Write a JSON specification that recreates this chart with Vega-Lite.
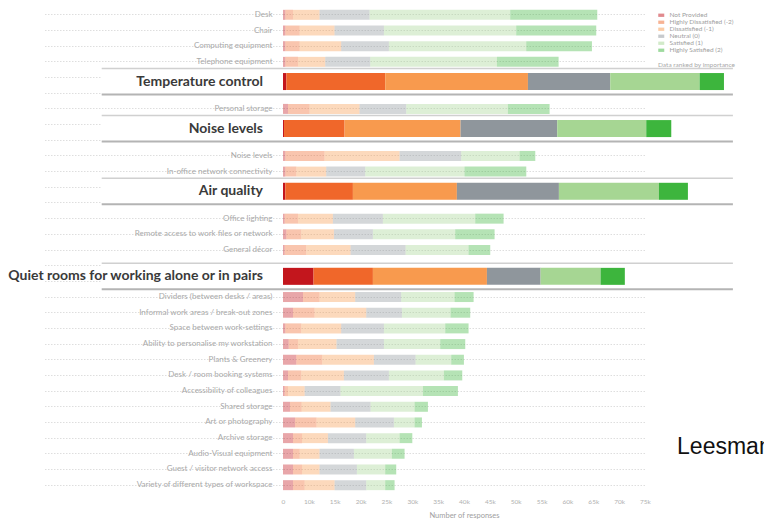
{
  "$schema": "https://vega.github.io/schema/vega-lite/v6.json",
  "width": 362,
  "height": 486,
  "autosize": "none",
  "padding": {"left": 283, "top": 7, "right": 119, "bottom": 27},
  "background": "white",
  "datasets": {
    "levels": [
      {"code": "np", "level": "Not Provided", "rank": 0},
      {"code": "hd", "level": "Highly Dissatisfied (-2)", "rank": 1},
      {"code": "dis", "level": "Dissatisfied (-1)", "rank": 2},
      {"code": "neu", "level": "Neutral (0)", "rank": 3},
      {"code": "sat", "level": "Satisfied (1)", "rank": 4},
      {"code": "hs", "level": "Highly Satisfied (2)", "rank": 5}
    ],
    "base": [
      {"row": "Desk", "np": 900, "hd": 2960, "dis": 8200, "neu": 9670, "sat": 27210, "hs": 16830},
      {"row": "Chair", "np": 900, "hd": 5540, "dis": 8520, "neu": 9550, "sat": 25590, "hs": 15470},
      {"row": "Computing equipment", "np": 900, "hd": 5540, "dis": 9810, "neu": 9220, "sat": 26570, "hs": 12700},
      {"row": "Telephone equipment", "np": 900, "hd": 4890, "dis": 7370, "neu": 8700, "sat": 24500, "hs": 11930},
      {"row": "Personal storage", "np": 1930, "hd": 8200, "dis": 9670, "neu": 9030, "sat": 19660, "hs": 8060},
      {"row": "Noise levels", "np": 900, "hd": 12130, "dis": 14510, "neu": 11920, "sat": 11290, "hs": 3030},
      {"row": "In-office network connectivity", "np": 900, "hd": 4250, "dis": 8200, "neu": 7550, "sat": 19200, "hs": 11940},
      {"row": "Office lighting", "np": 640, "hd": 5150, "dis": 8850, "neu": 9670, "sat": 17860, "hs": 5480},
      {"row": "Remote access to work files or network", "np": 1290, "hd": 5790, "dis": 7760, "neu": 7540, "sat": 15920, "hs": 7610},
      {"row": "General décor", "np": 640, "hd": 8370, "dis": 9050, "neu": 10640, "sat": 12180, "hs": 4190},
      {"row": "Dividers (between desks / areas)", "np": 7720, "hd": 4340, "dis": 6900, "neu": 8900, "sat": 10310, "hs": 3680},
      {"row": "Informal work areas / break-out zones", "np": 3860, "hd": 7240, "dis": 9990, "neu": 6900, "sat": 9410, "hs": 3800},
      {"row": "Space between work-settings", "np": 900, "hd": 6180, "dis": 9170, "neu": 8260, "sat": 11860, "hs": 4510},
      {"row": "Ability to personalise my workstation", "np": 2190, "hd": 3600, "dis": 9560, "neu": 9160, "sat": 10890, "hs": 4840},
      {"row": "Plants & Greenery", "np": 5150, "hd": 7430, "dis": 9990, "neu": 8060, "sat": 6900, "hs": 2450},
      {"row": "Desk / room booking systems", "np": 1930, "hd": 5150, "dis": 9690, "neu": 8700, "sat": 10640, "hs": 3550},
      {"row": "Accessibility of colleagues", "np": 640, "hd": 1290, "dis": 6440, "neu": 7750, "sat": 15930, "hs": 6770},
      {"row": "Shared storage", "np": 2700, "hd": 4510, "dis": 6980, "neu": 7740, "sat": 8510, "hs": 2580},
      {"row": "Art or photography", "np": 4630, "hd": 6850, "dis": 7480, "neu": 7480, "sat": 4000, "hs": 1420},
      {"row": "Archive storage", "np": 3860, "hd": 3480, "dis": 6340, "neu": 7410, "sat": 6450, "hs": 2460},
      {"row": "Audio-Visual equipment", "np": 3860, "hd": 2580, "dis": 5620, "neu": 6640, "sat": 7350, "hs": 2450},
      {"row": "Guest / visitor network access", "np": 3860, "hd": 3480, "dis": 4720, "neu": 7220, "sat": 5480, "hs": 2130},
      {"row": "Variety of different types of workspace", "np": 3860, "hd": 4510, "dis": 6600, "neu": 6120, "sat": 3670, "hs": 1810}
    ],
    "callouts": [
      {"row": "Temperature control (callout)", "item": "Temperature control", "np": 1290, "hd": 23470, "dis": 27600, "neu": 15920, "sat": 17280, "hs": 4710},
      {"row": "Noise levels (callout)", "item": "Noise levels", "np": 400, "hd": 16500, "dis": 22430, "neu": 18700, "sat": 17210, "hs": 4840},
      {"row": "Air quality (callout)", "item": "Air quality", "np": 900, "hd": 17610, "dis": 20110, "neu": 19730, "sat": 19340, "hs": 5610},
      {"row": "Quiet rooms for working alone or in pairs (callout)", "item": "Quiet rooms for working alone or in pairs", "np": 10900, "hd": 11480, "dis": 22050, "neu": 10380, "sat": 11600, "hs": 4690}
    ],
    "note": [{"text": "Leesman"}]
  },
  "config": {
    "view": {"stroke": null},
    "font": "Lato",
    "axisY": {
      "domain": false,
      "ticks": true,
      "tickOffset": 7.84,
      "tickSize": 240,
      "tickColor": "#d6d6d6",
      "tickDash": [1.5, 1.5],
      "tickWidth": 0.8,
      "grid": true,
      "gridColor": "#d6d6d6",
      "gridDash": [1.5, 1.5],
      "gridWidth": 0.8,
      "labelPadding": -229,
      "labelFontSize": 8,
      "labelColor": "#a9a9a9",
      "labelFont": "Lato",
      "labelLimit": 400
    },
    "axisX": {
      "domain": false,
      "ticks": false,
      "grid": false,
      "labelFlush": false,
      "labelOverlap": false,
      "labelFontSize": 6.5,
      "labelColor": "#b0b0b0",
      "labelFont": "Lato",
      "labelPadding": 5,
      "titleFontSize": 7.5,
      "titleColor": "#a0a0a0",
      "titleFont": "Lato",
      "titleFontWeight": "normal",
      "titlePadding": 7
    }
  },
  "layer": [
    {
      "data": {"name": "base"},
      "transform": [
        {"fold": ["np", "hd", "dis", "neu", "sat", "hs"], "as": ["code", "count"]},
        {"lookup": "code", "from": {"data": {"name": "levels"}, "key": "code", "fields": ["level", "rank"]}}
      ],
      "mark": {"type": "bar", "size": 10, "opacity": 0.38},
      "encoding": {
        "y": {
          "field": "row",
          "type": "nominal",
          "title": null,
          "sort": null,
          "scale": {
            "domain": [
              "Desk", "Chair", "Computing equipment", "Telephone equipment",
              "Temperature control (callout)", " ", "Personal storage",
              "Noise levels (callout)", "  ", "Noise levels", "In-office network connectivity",
              "Air quality (callout)", "   ", "Office lighting", "Remote access to work files or network",
              "General décor", "    ", "Quiet rooms for working alone or in pairs (callout)",
              "Dividers (between desks / areas)", "Informal work areas / break-out zones",
              "Space between work-settings", "Ability to personalise my workstation",
              "Plants & Greenery", "Desk / room booking systems", "Accessibility of colleagues",
              "Shared storage", "Art or photography", "Archive storage", "Audio-Visual equipment",
              "Guest / visitor network access", "Variety of different types of workspace"
            ],
            "paddingInner": 0,
            "paddingOuter": 0
          },
          "axis": {"labelExpr": "indexof(datum.value, '(callout)') >= 0 ? '' : datum.value"}
        },
        "x": {
          "field": "count",
          "type": "quantitative",
          "stack": "zero",
          "title": "Number of responses",
          "scale": {"domain": [0, 10000, 75000], "range": [0, 25.9, 362], "nice": false, "zero": false},
          "axis": {
            "values": [0, 10000, 15000, 20000, 25000, 30000, 35000, 40000, 45000, 50000, 55000, 60000, 65000, 70000, 75000],
            "tickCount": 40,
            "labelExpr": "datum.value == 0 ? '0' : (datum.value / 1000) + 'k'"
          }
        },
        "color": {
          "field": "level",
          "type": "nominal",
          "scale": {
            "domain": ["Not Provided", "Highly Dissatisfied (-2)", "Dissatisfied (-1)", "Neutral (0)", "Satisfied (1)", "Highly Satisfied (2)"],
            "range": ["#c3161d", "#f0672a", "#f89a4e", "#8f969c", "#a6d693", "#3db53d"]
          },
          "legend": {
            "orient": "none",
            "legendX": 375,
            "legendY": 5,
            "title": "Data ranked by importance",
            "titleOrient": "bottom",
            "titleAnchor": "start",
            "titleFontSize": 6.5,
            "titleFontWeight": "normal",
            "titleColor": "#a8a8a8",
            "titlePadding": 8,
            "labelFontSize": 6.5,
            "labelColor": "#a0a0a0",
            "labelOffset": 5,
            "symbolType": "M-1,-0.55H1V0.55H-1Z",
            "symbolSize": 36,
            "symbolOpacity": 0.5,
            "symbolStrokeWidth": 0,
            "rowPadding": 0
          }
        },
        "order": {"field": "rank", "type": "quantitative"}
      }
    },
    {
      "data": {"name": "callouts"},
      "mark": {"type": "bar", "size": 26, "color": "white", "yOffset": {"expr": "indexof(datum.row, 'Quiet') == 0 ? -5 : 4"}},
      "encoding": {
        "y": {"field": "row", "type": "nominal", "title": null},
        "x": {"datum": -70000, "type": "quantitative", "title": "Number of responses"},
        "x2": {"datum": 92000}
      }
    },
    {
      "data": {"name": "callouts"},
      "mark": {"type": "rule", "color": "#d0d0d0", "strokeWidth": 1.5, "yOffset": {"expr": "(indexof(datum.row, 'Quiet') == 0 ? -5 : 4) - 13"}},
      "encoding": {
        "y": {"field": "row", "type": "nominal", "title": null},
        "x": {"datum": -70000, "type": "quantitative", "title": "Number of responses"},
        "x2": {"datum": 92000}
      }
    },
    {
      "data": {"name": "callouts"},
      "mark": {"type": "rule", "color": "#b4b4b4", "strokeWidth": 2, "yOffset": {"expr": "(indexof(datum.row, 'Quiet') == 0 ? -5 : 4) + 13"}},
      "encoding": {
        "y": {"field": "row", "type": "nominal", "title": null},
        "x": {"datum": -70000, "type": "quantitative", "title": "Number of responses"},
        "x2": {"datum": 92000}
      }
    },
    {
      "data": {"name": "callouts"},
      "transform": [
        {"fold": ["np", "hd", "dis", "neu", "sat", "hs"], "as": ["code", "count"]},
        {"lookup": "code", "from": {"data": {"name": "levels"}, "key": "code", "fields": ["level", "rank"]}}
      ],
      "mark": {"type": "bar", "size": 17, "yOffset": {"expr": "indexof(datum.row, 'Quiet') == 0 ? -5 : 4"}},
      "encoding": {
        "y": {"field": "row", "type": "nominal", "title": null},
        "x": {"field": "count", "type": "quantitative", "stack": "zero", "title": "Number of responses"},
        "color": {"field": "level", "type": "nominal", "legend": null},
        "order": {"field": "rank", "type": "quantitative"}
      }
    },
    {
      "data": {"name": "callouts"},
      "mark": {"type": "text", "align": "right", "baseline": "middle", "dx": -20, "font": "Lato", "fontWeight": "bold", "fontSize": 14, "color": "#3a3a3a", "yOffset": {"expr": "indexof(datum.row, 'Quiet') == 0 ? -5 : 4"}},
      "encoding": {
        "y": {"field": "row", "type": "nominal", "title": null},
        "x": {"datum": 0, "type": "quantitative", "title": "Number of responses"},
        "text": {"field": "item"}
      }
    },
    {
      "data": {"name": "note"},
      "mark": {"type": "text", "align": "left", "baseline": "middle", "dy": -7, "font": "Liberation Sans", "fontSize": 23, "color": "#111111"},
      "encoding": {
        "y": {"datum": "Audio-Visual equipment", "type": "nominal", "title": null},
        "x": {"datum": 81200, "type": "quantitative", "title": "Number of responses"},
        "text": {"field": "text"}
      }
    }
  ]
}
